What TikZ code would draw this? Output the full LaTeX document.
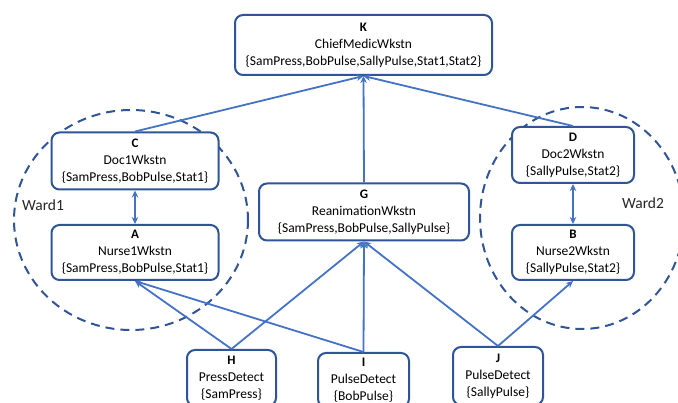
\documentclass[tikz,border=0pt]{standalone}
\usepackage{fontspec}
\setmainfont{Carlito}
\usetikzlibrary{arrows.meta}
\definecolor{boxblue}{HTML}{2F5597}
\definecolor{linkblue}{HTML}{4472C4}
\tikzset{
  wkstn/.style={draw=boxblue, line width=2pt, rounded corners=8pt, fill=white,
    align=center, inner sep=0pt, font=\fontsize{13.5}{17}\selectfont},
  link/.style={draw=linkblue, line width=1.8pt, -{Stealth[length=7pt,width=6.5pt]}},
  dlink/.style={draw=linkblue, line width=1.8pt, {Stealth[length=7pt,width=6.5pt]}-{Stealth[length=7pt,width=6.5pt]}},
  ward/.style={draw=boxblue, line width=2pt, dash pattern=on 9pt off 6pt},
  wardlabel/.style={font=\fontsize{15.5}{17}\selectfont, text=black!85}
}
\newcommand{\tag}[1]{{\fontsize{13}{14}\selectfont\bfseries #1}}
\begin{document}
\begin{tikzpicture}[x=1pt,y=-1pt]
\useasboundingbox (0,0) rectangle (678,403);
\clip (0,0) rectangle (678,403);

% ward boundaries
\draw[ward] (131,220) ellipse [x radius=117, y radius=110];
\draw[ward] (582,218) ellipse [x radius=102, y radius=111];
\node[wardlabel] (w1) at (43,205) {Ward1};
\node[wardlabel] (w2) at (643,203) {Ward2};

% workstations and detectors
\node[wkstn, minimum width=257pt, minimum height=60pt] (K) at (363.5,45)
  {\tag{K}\\ChiefMedicWkstn\\\{SamPress,BobPulse,SallyPulse,Stat1,Stat2\}};
\node[wkstn, minimum width=167pt, minimum height=57pt] (C) at (135,161)
  {\tag{C}\\Doc1Wkstn\\\{SamPress,BobPulse,Stat1\}};
\node[wkstn, minimum width=167pt, minimum height=55pt] (A) at (135,252.5)
  {\tag{A}\\Nurse1Wkstn\\\{SamPress,BobPulse,Stat1\}};
\node[wkstn, minimum width=122pt, minimum height=56pt] (D) at (573,155)
  {\tag{D}\\Doc2Wkstn\\\{SallyPulse,Stat2\}};
\node[wkstn, minimum width=122pt, minimum height=55pt] (B) at (573,252.5)
  {\tag{B}\\Nurse2Wkstn\\\{SallyPulse,Stat2\}};
\node[wkstn, minimum width=210pt, minimum height=57pt] (G) at (364,212)
  {\tag{G}\\ReanimationWkstn\\\{SamPress,BobPulse,SallyPulse\}};
\node[wkstn, minimum width=89pt, minimum height=56pt] (H) at (231.5,378)
  {\tag{H}\\PressDetect\\\{SamPress\}};
\node[wkstn, minimum width=91pt, minimum height=54pt] (I) at (363.5,380)
  {\tag{I}\\PulseDetect\\\{BobPulse\}};
\node[wkstn, minimum width=90pt, minimum height=58pt] (J) at (498,376)
  {\tag{J}\\PulseDetect\\\{SallyPulse\}};

% data flows
\draw[link] (C.north) -- (K.south);
\draw[link] (G.north) -- (K.south);
\draw[link] (D.north) -- (K.south);
\draw[dlink] (C.south) -- (A.north);
\draw[dlink] (D.south) -- (B.north);
\draw[link] (H.north) -- (A.south);
\draw[link] (H.north) -- (G.south);
\draw[link] (I.north) -- (A.south);
\draw[link] (I.north) -- (G.south);
\draw[link] (J.north) -- (G.south);
\draw[link] (J.north) -- (B.south);
\end{tikzpicture}
\end{document}
